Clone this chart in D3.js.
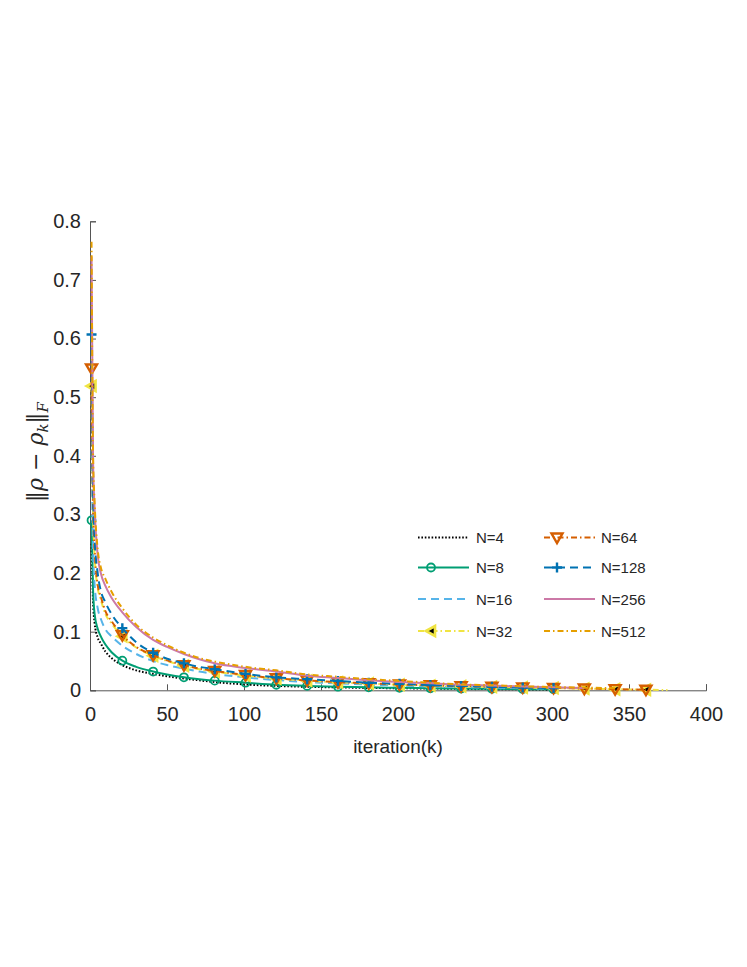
<!DOCTYPE html>
<html>
<head>
<meta charset="utf-8">
<script src="https://d3js.org/d3.v7.min.js"></script>
<style>
  body { margin: 0; background: #fff; }
  text { font-family: "Liberation Sans", Arial, sans-serif; fill: #262626; }
</style>
</head>
<body>
<div id="my_dataviz"></div>
<script>
// iteration numbers where values were read
const iterations = [1, 2, 3, 5, 7, 10, 14, 21, 30, 41, 50, 61, 71, 81, 101, 121, 141, 161, 181, 201, 221, 241, 261, 281, 301, 321, 341, 361, 375];

const seriesNames = ["N=4", "N=8", "N=16", "N=32", "N=64", "N=128", "N=256", "N=512"];

const n4   = [0.25, 0.15, 0.115, 0.09, 0.08, 0.066, 0.055, 0.043, 0.034, 0.028, 0.024, 0.020, 0.017, 0.014, 0.010, 0.0075, 0.006, 0.005, 0.004, 0.0035, 0.003, 0.0025, 0.002, 0.0015, 0.001, null, null, null, null];
const n8   = [0.29, 0.17, 0.13, 0.105, 0.092, 0.078, 0.065, 0.0505, 0.040, 0.032, 0.027, 0.0222, 0.019, 0.0165, 0.013, 0.0095, 0.0075, 0.0062, 0.005, 0.0042, 0.0035, 0.003, 0.0025, 0.002, 0.0016, null, null, null, null];
const n16  = [0.41, 0.24, 0.18, 0.14, 0.122, 0.104, 0.092, 0.076, 0.062, 0.050, 0.043, 0.037, 0.032, 0.028, 0.022, 0.0175, 0.014, 0.012, 0.010, 0.008, 0.0065, 0.0055, 0.0045, 0.0035, 0.0028, null, null, null, null];
const n32  = [0.519, 0.30, 0.23, 0.175, 0.155, 0.13, 0.114, 0.092, 0.073, 0.059, 0.050, 0.042, 0.036, 0.032, 0.025, 0.020, 0.0165, 0.0135, 0.0115, 0.0095, 0.008, 0.0068, 0.0058, 0.0048, 0.0038, 0.0028, 0.0018, 0.001, 0.0005];
const n64  = [0.549, 0.31, 0.24, 0.18, 0.16, 0.135, 0.118, 0.094, 0.074, 0.060, 0.051, 0.043, 0.037, 0.033, 0.026, 0.0205, 0.017, 0.014, 0.012, 0.010, 0.0085, 0.0072, 0.006, 0.005, 0.004, 0.003, 0.002, 0.001, null];
const n128 = [0.607, 0.34, 0.26, 0.20, 0.17, 0.15, 0.13, 0.106, 0.082, 0.064, 0.054, 0.046, 0.040, 0.036, 0.028, 0.022, 0.019, 0.016, 0.013, 0.011, 0.009, 0.0075, 0.006, 0.0048, 0.0038, null, null, null, null];
const n256 = [0.74, 0.39, 0.31, 0.23, 0.20, 0.178, 0.158, 0.133, 0.108, 0.086, 0.074, 0.062, 0.053, 0.046, 0.038, 0.032, 0.025, 0.021, 0.017, 0.014, 0.012, 0.0095, 0.008, 0.0065, 0.0052, 0.004, null, null, null];
const n512 = [0.765, 0.40, 0.32, 0.24, 0.21, 0.19, 0.168, 0.140, 0.112, 0.090, 0.077, 0.064, 0.055, 0.049, 0.040, 0.034, 0.027, 0.023, 0.019, 0.016, 0.013, 0.010, 0.0085, 0.0068, 0.0056, 0.0046, 0.0035, null, null];

const xTicks = [0, 50, 100, 150, 200, 250, 300, 350, 400];
const yTicks = [0, 0.1, 0.2, 0.3, 0.4, 0.5, 0.6, 0.7, 0.8];

// styles per series
const styles = [
  { color: "#000000", dash: "1.6,1.8",     marker: null },
  { color: "#009E73", dash: null,          marker: "circle" },
  { color: "#56B4E9", dash: "8,5",         marker: null },
  { color: "#F0E442", dash: "6,3,1.5,3",   marker: "left" },
  { color: "#D55E00", dash: "6,3,1.5,3",   marker: "down" },
  { color: "#0072B2", dash: "8,5",         marker: "plus" },
  { color: "#CC79A7", dash: null,          marker: null },
  { color: "#E69F00", dash: "6,3,1.5,3",   marker: null }
];
const allValues = [n4, n8, n16, n32, n64, n128, n256, n512];

const W = 747, H = 967;
const svg = d3.select("#my_dataviz").append("svg")
  .attr("width", W).attr("height", H);

const x = d3.scaleLinear().domain([0, 400]).range([90, 706]);
const y = d3.scaleLinear().domain([0, 0.8]).range([690.3, 221.3]);

const axisColor = "#555";

// x axis (ticks point inward)
const gx = svg.append("g").attr("transform", "translate(0," + y(0) + ")")
  .call(d3.axisBottom(x).tickValues(xTicks).tickSize(-6).tickPadding(17).tickFormat(d3.format("d")));
gx.select(".domain").attr("stroke", axisColor).attr("stroke-width", 1);
gx.selectAll(".tick line").attr("stroke", axisColor);
gx.selectAll(".tick text").attr("font-size", 20).attr("fill", "#262626")
  .attr("font-family", "Liberation Sans, Arial, sans-serif");

// y axis
const gy = svg.append("g").attr("transform", "translate(" + x(0) + ",0)")
  .call(d3.axisLeft(y).tickValues(yTicks).tickSize(-6).tickPadding(9).tickFormat(d => d === 0 ? "0" : d3.format(".1f")(d)));
gy.select(".domain").attr("stroke", axisColor).attr("stroke-width", 1);
gy.selectAll(".tick line").attr("stroke", axisColor);
gy.selectAll(".tick text").attr("font-size", 20).attr("fill", "#262626")
  .attr("font-family", "Liberation Sans, Arial, sans-serif");

// axis labels
svg.append("text")
  .attr("x", (x(0) + x(400)) / 2).attr("y", 753)
  .attr("text-anchor", "middle").attr("font-size", 19)
  .text("iteration(k)");

const yl = svg.append("text")
  .attr("transform", "translate(43,452) rotate(-90)")
  .attr("text-anchor", "middle").attr("font-size", 22)
  .style("font-family", "'DejaVu Serif', 'Liberation Serif', serif");
yl.append("tspan").text("\u2016");
yl.append("tspan").attr("font-style", "italic").text("\u03C1");
yl.append("tspan").text(" \u2212 ");
yl.append("tspan").attr("font-style", "italic").text("\u03C1");
yl.append("tspan").attr("font-style", "italic").attr("font-size", 15).attr("dy", 5).text("k");
yl.append("tspan").attr("dy", -5).text("\u2016");
yl.append("tspan").attr("font-style", "italic").attr("font-size", 15).attr("dy", 5).text("F");

const line = d3.line()
  .defined(d => d.v != null)
  .x(d => x(d.k)).y(d => y(d.v))
  .curve(d3.curveMonotoneX);

function drawMarker(g, type, color, cx, cy) {
  if (type === "circle") {
    g.append("circle").attr("cx", cx).attr("cy", cy).attr("r", 4)
      .attr("fill", "none").attr("stroke", color).attr("stroke-width", 1.8);
  } else if (type === "plus") {
    g.append("path").attr("d", `M${cx - 5},${cy}H${cx + 5}M${cx},${cy - 5}V${cy + 5}`)
      .attr("stroke", color).attr("stroke-width", 2.4).attr("fill", "none");
  } else if (type === "left") {
    g.append("path").attr("d", `M${cx - 5},${cy}L${cx + 4},${cy - 5}L${cx + 4},${cy + 5}Z`)
      .attr("stroke", color).attr("stroke-width", 2.6).attr("fill", "#000").attr("stroke-linejoin", "miter");
  } else if (type === "down") {
    g.append("path").attr("d", `M${cx - 5.5},${cy - 4}L${cx + 5.5},${cy - 4}L${cx},${cy + 5.5}Z`)
      .attr("stroke", color).attr("stroke-width", 2.4).attr("fill", "none").attr("stroke-linejoin", "miter");
  }
}

// curves
allValues.forEach((vals, i) => {
  const st = styles[i];
  const pts = iterations.map((k, j) => ({ k: k, v: vals[j] }));
  const g = svg.append("g");
  g.append("path").datum(pts)
    .attr("d", line)
    .attr("fill", "none")
    .attr("stroke", st.color)
    .attr("stroke-width", 2)
    .attr("stroke-dasharray", st.dash);
  if (st.marker) {
    pts.filter(p => p.v != null && (p.k - 1) % 20 === 0).forEach(p => {
      drawMarker(g, st.marker, st.color, x(p.k), y(p.v));
    });
  }
});

// legend (two columns, no box)
const legRows = [537.5, 567.5, 599, 631];
const legCols = [{ x1: 418, x2: 469, tx: 476 }, { x1: 544, x2: 595, tx: 601 }];
seriesNames.forEach((name, i) => {
  const col = legCols[Math.floor(i / 4)];
  const ry = legRows[i % 4];
  const st = styles[i];
  const g = svg.append("g");
  g.append("line").attr("x1", col.x1).attr("x2", col.x2).attr("y1", ry).attr("y2", ry)
    .attr("stroke", st.color).attr("stroke-width", 2)
    .attr("stroke-dasharray", st.dash);
  if (st.marker) drawMarker(g, st.marker, st.color, col.x1 + 13, ry);
  g.append("text").attr("x", col.tx).attr("y", ry + 5.5)
    .attr("font-size", 15).text(name);
});
</script>
</body>
</html>
